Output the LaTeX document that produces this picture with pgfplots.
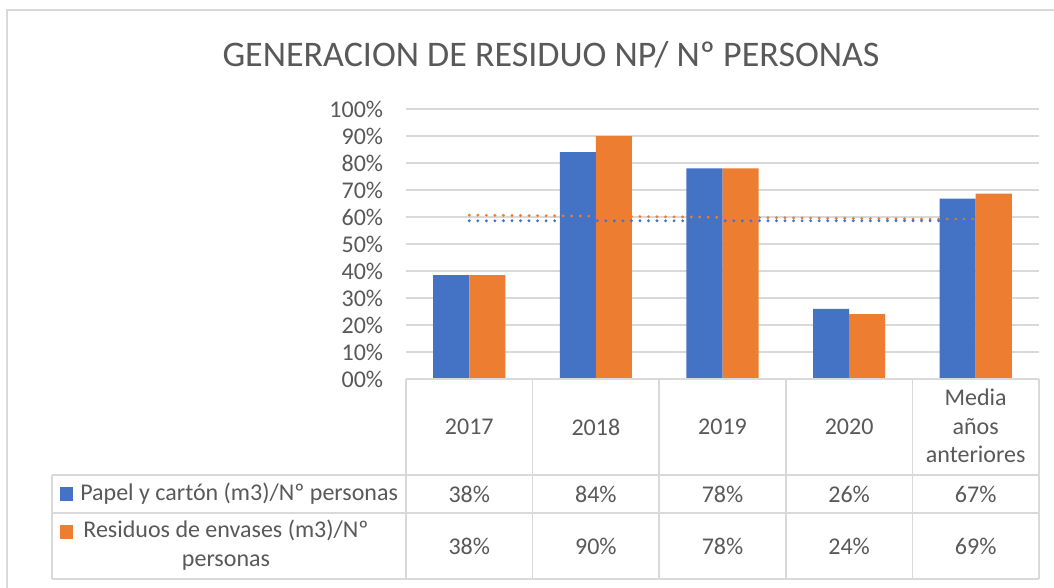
\documentclass[border=0pt]{standalone}
\usepackage{pgfplots}
\pgfplotsset{compat=1.18}
\usepackage{fontspec}
\setmainfont{Carlito}
\definecolor{txt}{HTML}{595959}
\definecolor{gridc}{HTML}{D9D9D9}
\definecolor{cblue}{HTML}{4472C4}
\definecolor{corange}{HTML}{ED7D31}
\newcommand{\lab}{\fontsize{18}{21.75}\selectfont}
\begin{document}
\begin{tikzpicture}[x=0.75pt,y=0.75pt]
\useasboundingbox (0,0) rectangle (1054,587);
\fill[white] (0,0) rectangle (1054,587);
\coordinate (A) at (406,208);
% outer chart border (cropped at right and bottom)
\draw[gridc, line width=1.2pt] (7,-5) -- (7,577) -- (1060,577);
% title
\node[text=txt, font=\fontsize{27}{30}\selectfont, inner sep=0pt] at (551,532) {GENERACION DE RESIDUO NP/ Nº PERSONAS};
\begin{axis}[
  at={(A)}, anchor=south west,
  scale only axis, width=474.75pt, height=202.5pt,
  xmin=-0.5, xmax=4.5, ymin=0, ymax=100,
  axis line style={draw=none},
  major tick length=0pt,
  xtick=\empty,
  ytick={0,10,20,30,40,50,60,70,80,90,100},
  yticklabels={00\%,10\%,20\%,30\%,40\%,50\%,60\%,70\%,80\%,90\%,100\%},
  yticklabel style={font=\lab, text=txt, inner sep=0pt, xshift=-17pt},
  ymajorgrids, grid style={gridc, line width=1.1pt},
  clip=false,
]
\addplot[ybar, bar width=0.285, bar shift=-0.1425, fill=cblue, draw=none]
  coordinates {(0,38.5) (1,84) (2,78) (3,26) (4,66.8)};
\addplot[ybar, bar width=0.285, bar shift=0.1425, fill=corange, draw=none]
  coordinates {(0,38.5) (1,90) (2,78) (3,24) (4,68.7)};
% linear trend lines
\addplot[corange, line width=2.4pt, line cap=round, dash pattern=on 0pt off 6.4pt]
  coordinates {(0,60.7) (4,59.1)};
\addplot[cblue, line width=2.4pt, line cap=round, dash pattern=on 0pt off 6.4pt]
  coordinates {(0,58.6) (4,58.6)};
\end{axis}
% data table grid
\begin{scope}[gridc, line width=1.1pt]
\draw (406,208) -- (1039,208);
\draw (52,112) -- (1039,112);
\draw (52,74) -- (1039,74);
\draw (52,8) -- (1039,8);
\draw (52,112) -- (52,8);
\foreach \x in {406,532.6,659.2,785.8,912.4,1039} \draw (\x,208) -- (\x,8);
\end{scope}
% header
\begin{scope}[text=txt, font=\lab]
\node at (469.3,160) {2017};
\node at (595.9,160) {2018};
\node at (722.5,160) {2019};
\node at (849.1,160) {2020};
\node[align=center, font=\fontsize{18}{21.75}\selectfont, text=txt] at (975.7,161) {Media\\[-0.5pt]años\\[-0.5pt]anteriores};
% row 1
\fill[cblue] (60,86) rectangle (73,100);
\node[anchor=west, inner sep=0pt] at (80,93) {Papel y cartón (m3)/Nº personas};
\node at (469.3,93) {38\%};
\node at (595.9,93) {84\%};
\node at (722.5,93) {78\%};
\node at (849.1,93) {26\%};
\node at (975.7,93) {67\%};
% row 2
\fill[corange] (60,48) rectangle (73,62);
\node[align=center, inner sep=0pt, font=\fontsize{18}{21.75}\selectfont, text=txt] at (226,41.5) {Residuos de envases (m3)/Nº\\personas};
\node at (469.3,41) {38\%};
\node at (595.9,41) {90\%};
\node at (722.5,41) {78\%};
\node at (849.1,41) {24\%};
\node at (975.7,41) {69\%};
\end{scope}
\end{tikzpicture}
\end{document}
